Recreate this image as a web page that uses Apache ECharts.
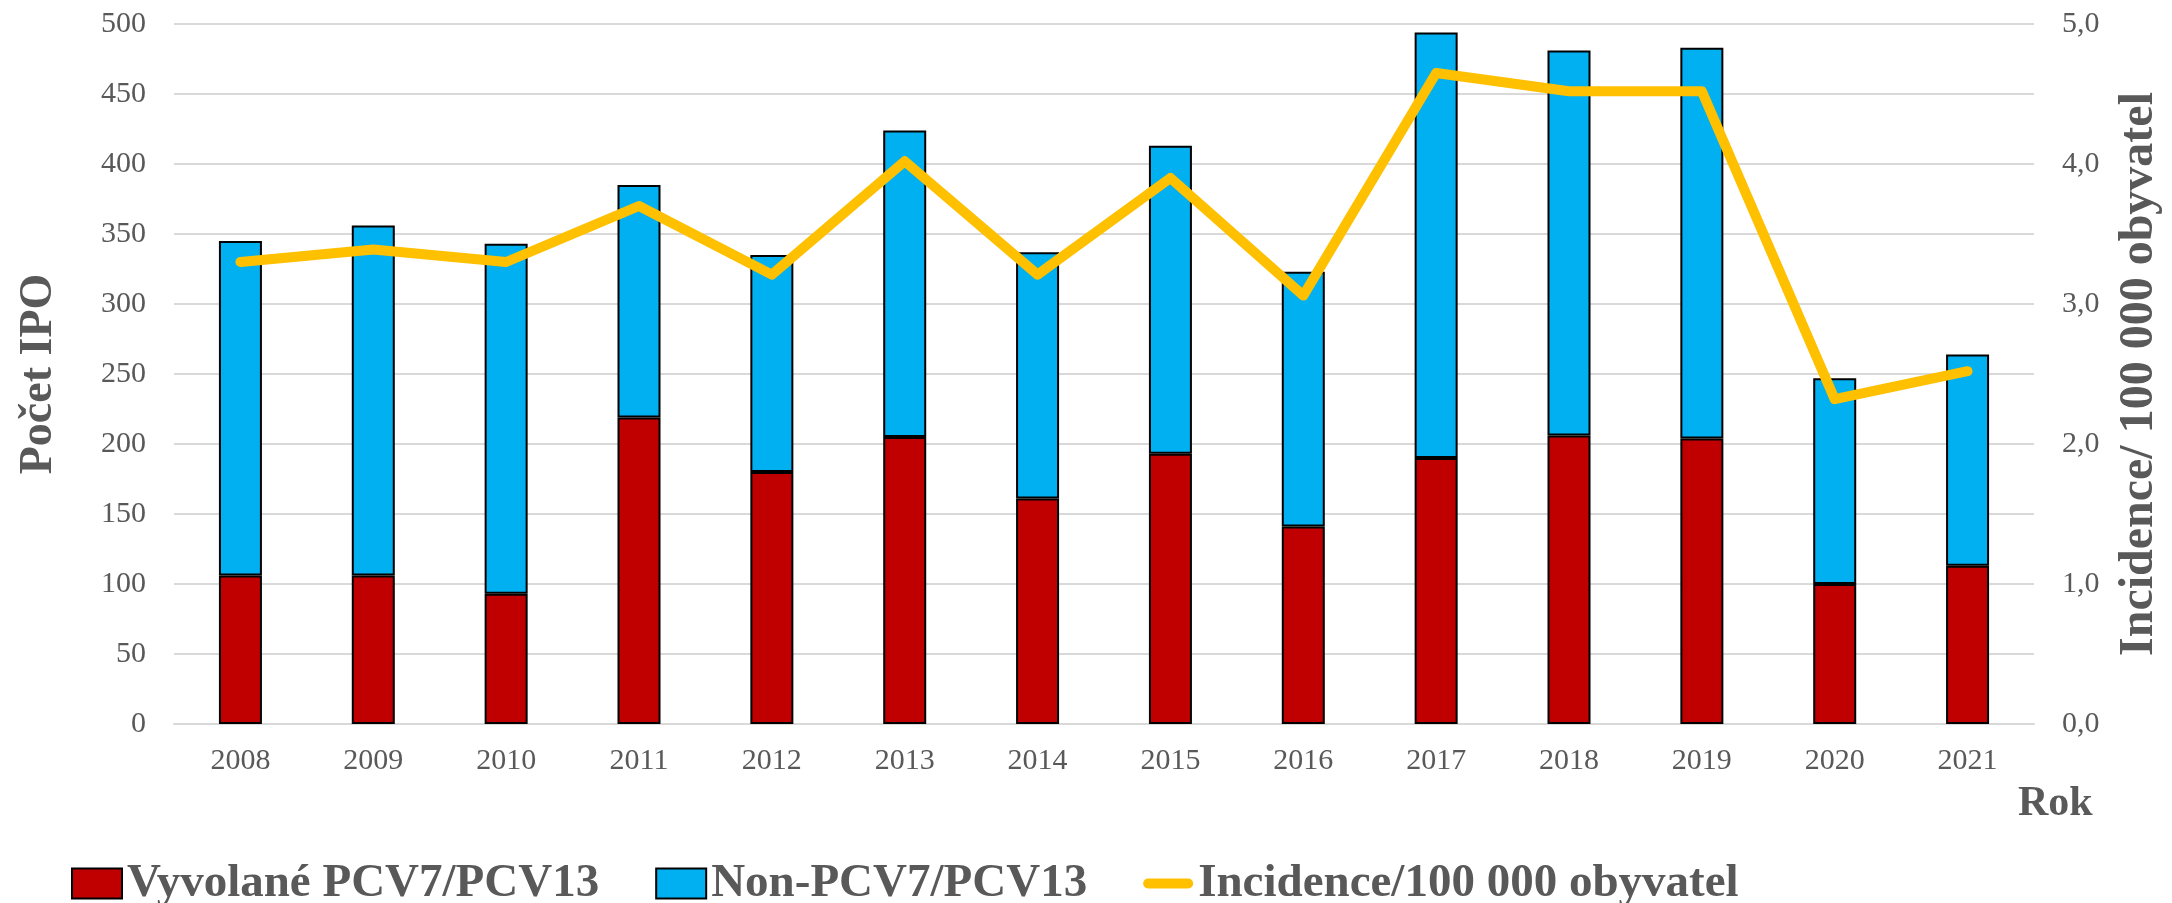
<!DOCTYPE html>
<html>
<head>
<meta charset="utf-8">
<title>IPO</title>
<script src="https://cdn.jsdelivr.net/npm/echarts@6/dist/echarts.min.js"></script>
<style>
  html, body { margin: 0; padding: 0; background: #fff; }
  #main { width: 2172px; height: 903px; }
</style>
</head>
<body>
<div id="main"></div>
<script>
// roky na ose x
var years = ['2008', '2009', '2010', '2011', '2012', '2013', '2014', '2015', '2016', '2017', '2018', '2019', '2020', '2021'];
// pocty IPO vyvolane PCV7/PCV13 serotypy
var vyvolane = [106, 106, 93, 219, 180, 205, 161, 193, 141, 190, 206, 204, 100, 113];
// ostatni serotypy
var nonPcv = [239, 250, 250, 166, 155, 219, 176, 220, 182, 304, 275, 279, 147, 151];
// incidence na 100 000 obyvatel
var incidence = [3.30, 3.39, 3.30, 3.70, 3.21, 4.02, 3.21, 3.90, 3.06, 4.65, 4.52, 4.52, 2.32, 2.52];

var serif = 'Liberation Serif';
var grey = '#595959';
// ikona legendy pro caru - zakulaceny pruh uprostred boxu 50x30
var lineIcon = 'path://M0,0M0,30M4.5,10L45.5,10A5,5,0,0,1,45.5,20L4.5,20A5,5,0,0,1,4.5,10Z';

var myChart = echarts.init(document.getElementById('main'));
myChart.setOption({
  animation: false,
  textStyle: { fontFamily: serif, color: grey },
  title: {
    text: 'Rok',
    left: 2013,
    top: 778,
    textStyle: { fontFamily: serif, fontWeight: 'bold', fontSize: 42, color: grey }
  },
  grid: { left: 174, right: 126, top: 24, bottom: 179 },
  legend: {
    left: 66,
    top: 855,
    itemWidth: 50,
    itemHeight: 30,
    itemGap: 56,
    textStyle: { fontFamily: serif, fontWeight: 'bold', fontSize: 47, color: grey },
    data: [
      { name: 'Vyvolané PCV7/PCV13', icon: 'rect' },
      { name: 'Non-PCV7/PCV13', icon: 'rect' },
      { name: 'Incidence/100 000 obyvatel', icon: lineIcon, itemStyle: { color: '#ffc000', borderWidth: 0 } }
    ]
  },
  xAxis: {
    type: 'category',
    data: years,
    axisTick: { show: false },
    axisLine: { lineStyle: { color: '#d9d9d9', width: 2 } },
    axisLabel: { fontFamily: serif, fontSize: 30, color: grey, margin: 22 }
  },
  yAxis: [
    {
      type: 'value',
      min: 0,
      max: 500,
      interval: 50,
      name: 'Počet IPO',
      nameLocation: 'middle',
      nameRotate: 90,
      nameGap: 112,
      nameTextStyle: { fontFamily: serif, fontWeight: 'bold', fontSize: 46, color: grey },
      axisLabel: { fontFamily: serif, fontSize: 30, color: grey, margin: 28 },
      splitLine: { lineStyle: { color: '#d9d9d9', width: 2 } }
    },
    {
      type: 'value',
      min: 0,
      max: 5,
      interval: 1,
      name: 'Incidence/ 100 000 obyvatel',
      nameLocation: 'middle',
      nameRotate: 90,
      nameGap: 82,
      nameTextStyle: { fontFamily: serif, fontWeight: 'bold', fontSize: 48, color: grey },
      axisLabel: {
        fontFamily: serif, fontSize: 30, color: grey, margin: 28,
        formatter: function (v) { return v.toFixed(1).replace('.', ','); }
      },
      splitLine: { show: false }
    }
  ],
  series: [
    {
      name: 'Vyvolané PCV7/PCV13',
      type: 'bar',
      stack: 'ipo',
      barWidth: 43,
      data: vyvolane,
      itemStyle: { color: '#c00000', borderColor: '#000', borderWidth: 2 }
    },
    {
      name: 'Non-PCV7/PCV13',
      type: 'bar',
      stack: 'ipo',
      barWidth: 43,
      data: nonPcv,
      itemStyle: { color: '#00b0f0', borderColor: '#000', borderWidth: 2 }
    },
    {
      name: 'Incidence/100 000 obyvatel',
      type: 'line',
      yAxisIndex: 1,
      data: incidence,
      symbol: 'none',
      itemStyle: { color: '#ffc000' },
      lineStyle: { color: '#ffc000', width: 10, cap: 'round', join: 'round' }
    }
  ]
});
</script>
</body>
</html>
